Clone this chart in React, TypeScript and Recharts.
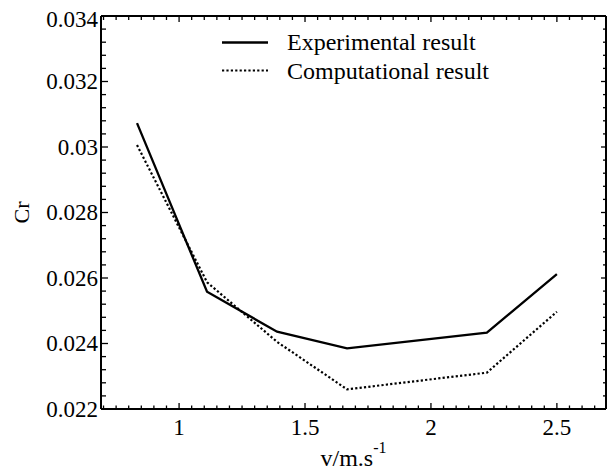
import React from 'react';
import { LineChart, Line, XAxis, YAxis, Legend, Label } from 'recharts';

// ---- data ----
const speeds = [0.833, 1.111, 1.389, 1.667, 2.222, 2.5];
const experimental = [0.03073, 0.02558, 0.02436, 0.02385, 0.02433, 0.02612];
const computational = [0.03006, 0.02587, 0.02405, 0.0226, 0.02311, 0.02497];
const seriesNames = ['Experimental result', 'Computational result'];

const xMajorTicks = [1, 1.5, 2, 2.5];
const xTickLabels = ['1', '1.5', '2', '2.5'];
const yMajorTicks = [0.022, 0.024, 0.026, 0.028, 0.03, 0.032, 0.034];
const yTickLabels = ['0.022', '0.024', '0.026', '0.028', '0.03', '0.032', '0.034'];

const xDomain: [number, number] = [0.69, 2.695];
const yDomain: [number, number] = [0.022, 0.034];

// minor tick positions (every 0.05 on x, every 0.0004 on y)
const xAllTicks: number[] = [];
for (let i = 14; i <= 53; i++) xAllTicks.push(Math.round(i * 5) / 100);
const yAllTicks: number[] = [];
for (let i = 55; i <= 85; i++) yAllTicks.push(Math.round(i * 4) / 10000);

const data = speeds.map((v, i) => ({ v, exp: experimental[i], comp: computational[i] }));

const FONT = "'Liberation Serif', 'Times New Roman', serif";

const majorIndex = (arr: number[], v: number) => arr.findIndex((a) => Math.abs(a - v) < 1e-9);

const LeftTick = (props: any) => {
  const { x, y, payload } = props;
  const idx = majorIndex(yMajorTicks, payload.value);
  const major = idx >= 0;
  const dy = payload.value > 0.0339 ? 10.5 : 7.8;
  return (
    <g>
      <line x1={x} x2={x + (major ? 7 : 5)} y1={y} y2={y} stroke="#000" strokeWidth={1.3} />
      {major && (
        <text x={x - 3} y={y + dy} textAnchor="end" style={{ fontFamily: FONT, fontSize: 23 }} fill="#000">
          {yTickLabels[idx]}
        </text>
      )}
    </g>
  );
};

const RightTick = (props: any) => {
  const { x, y, payload } = props;
  const major = majorIndex(yMajorTicks, payload.value) >= 0;
  return <line x1={x} x2={x - (major ? 5 : 3)} y1={y} y2={y} stroke="#000" strokeWidth={1.3} />;
};

const BottomTick = (props: any) => {
  const { x, y, payload } = props;
  const idx = majorIndex(xMajorTicks, payload.value);
  const major = idx >= 0;
  return (
    <g>
      <line x1={x} x2={x} y1={y} y2={y - (major ? 6 : 3.5)} stroke="#000" strokeWidth={1.3} />
      {major && (
        <text x={x} y={y + 26} textAnchor="middle" style={{ fontFamily: FONT, fontSize: 23 }} fill="#000">
          {xTickLabels[idx]}
        </text>
      )}
    </g>
  );
};

const TopTick = (props: any) => {
  const { x, y, payload } = props;
  const major = majorIndex(xMajorTicks, payload.value) >= 0;
  return <line x1={x} x2={x} y1={y} y2={y + (major ? 6 : 4)} stroke="#000" strokeWidth={1.3} />;
};

const LegendContent = () => (
  <svg width={607} height={90} style={{ display: 'block' }}>
    <line x1={222} x2={268} y1={42.5} y2={42.5} stroke="#000" strokeWidth={2.3} />
    <text x={287} y={50} style={{ fontFamily: FONT, fontSize: 24 }} fill="#000">{seriesNames[0]}</text>
    <line x1={222} x2={268} y1={70.5} y2={70.5} stroke="#000" strokeWidth={2.2} strokeDasharray="2.2 2.2" />
    <text x={287} y={78.5} style={{ fontFamily: FONT, fontSize: 24 }} fill="#000">{seriesNames[1]}</text>
  </svg>
);

const YTitle = (props: any) => {
  const vb = props.viewBox || { x: 0, y: 0, width: 0, height: 0 };
  const cx = vb.x + 21.5;
  const cy = vb.y + vb.height / 2;
  return (
    <text x={cx} y={cy} transform={`rotate(-90, ${cx}, ${cy})`} textAnchor="middle" dy={7}
      style={{ fontFamily: FONT, fontSize: 22 }} fill="#000">Cr</text>
  );
};

const XTitle = (props: any) => {
  const vb = props.viewBox || { x: 0, y: 0, width: 0, height: 0 };
  const cx = vb.x + vb.width / 2;
  const by = vb.y + 57;
  return (
    <text x={cx - 33} y={by} style={{ fontFamily: FONT, fontSize: 24 }} fill="#000">
      v/m.s
      <tspan dy={-13} style={{ fontSize: 16 }}>-1</tspan>
    </text>
  );
};

export default function App() {
  return (
    <div style={{ position: 'absolute', left: 0, top: 0, background: '#fff' }}>
      <LineChart width={607} height={472} data={data} margin={{ top: 0, right: 0, bottom: 0, left: 0 }}>
        <XAxis
          xAxisId="b"
          dataKey="v"
          type="number"
          domain={xDomain}
          allowDataOverflow
          ticks={xAllTicks}
          interval={0}
          tickSize={0}
          tickMargin={0}
          height={63}
          axisLine={{ stroke: '#000', strokeWidth: 2 }}
          tick={<BottomTick />}
        >
          <Label content={<XTitle />} />
        </XAxis>
        <XAxis
          xAxisId="t"
          orientation="top"
          dataKey="v"
          type="number"
          domain={xDomain}
          allowDataOverflow
          ticks={xAllTicks}
          interval={0}
          tickSize={0}
          tickMargin={0}
          height={16}
          axisLine={{ stroke: '#000', strokeWidth: 2 }}
          tick={<TopTick />}
        />
        <YAxis
          yAxisId="l"
          type="number"
          domain={yDomain}
          allowDataOverflow
          ticks={yAllTicks}
          interval={0}
          tickSize={0}
          tickMargin={0}
          width={101}
          axisLine={{ stroke: '#000', strokeWidth: 2 }}
          tick={<LeftTick />}
        >
          <Label content={<YTitle />} />
        </YAxis>
        <YAxis
          yAxisId="r"
          orientation="right"
          type="number"
          domain={yDomain}
          allowDataOverflow
          ticks={yAllTicks}
          interval={0}
          tickSize={0}
          tickMargin={0}
          width={1}
          axisLine={{ stroke: '#000', strokeWidth: 2 }}
          tick={<RightTick />}
        />
        <Legend
          layout="horizontal"
          verticalAlign="middle"
          align="center"
          wrapperStyle={{ top: 0, left: 0, width: 607, height: 90 }}
          content={<LegendContent />}
        />
        <Line xAxisId="b" yAxisId="l" type="linear" dataKey="exp" name={seriesNames[0]} stroke="#000"
          strokeWidth={2.3} dot={false} isAnimationActive={false} />
        <Line xAxisId="b" yAxisId="l" type="linear" dataKey="comp" name={seriesNames[1]} stroke="#000"
          strokeWidth={2.2} strokeDasharray="2.2 2.2" dot={false} isAnimationActive={false} />
        <Line xAxisId="t" yAxisId="r" type="linear" dataKey="exp" stroke="none" dot={false}
          legendType="none" isAnimationActive={false} />
      </LineChart>
    </div>
  );
}
